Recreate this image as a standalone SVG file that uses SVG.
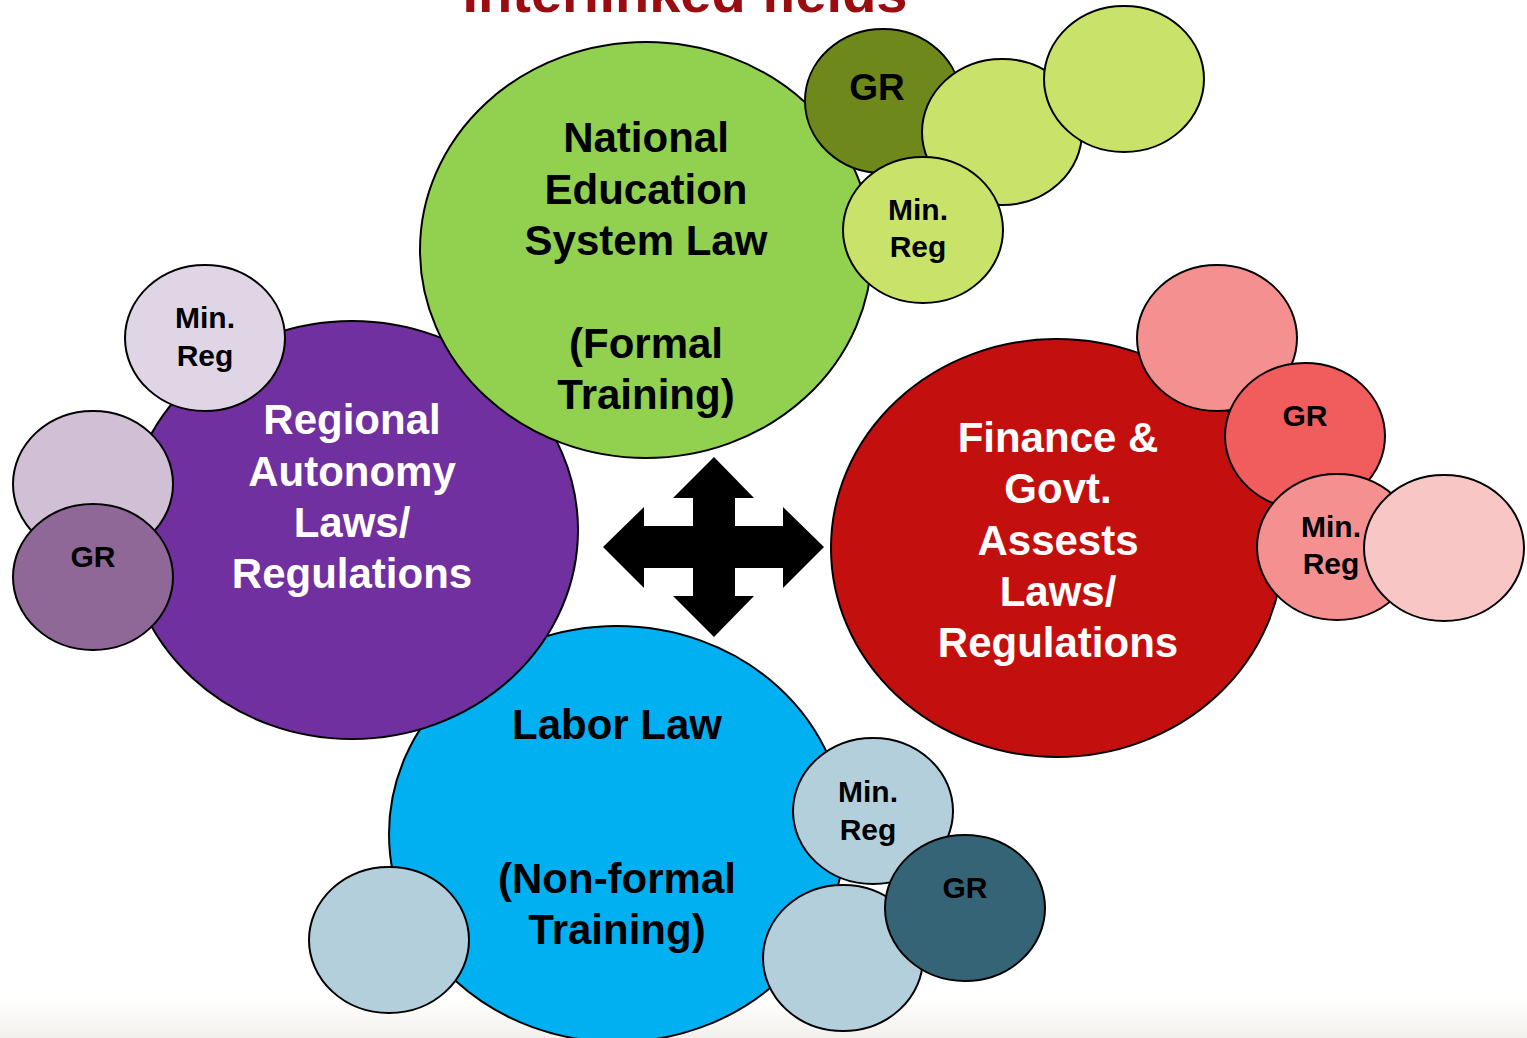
<svg xmlns="http://www.w3.org/2000/svg" width="1527" height="1038" viewBox="0 0 1527 1038">
  <defs>
    <linearGradient id="floor" x1="0" y1="0" x2="0" y2="1">
      <stop offset="0" stop-color="#ffffff"/>
      <stop offset="1" stop-color="#f2f0ec"/>
    </linearGradient>
  </defs>
  <style>
    ellipse { stroke: #000; stroke-width: 2; }
    text { font-family: "Liberation Sans", Arial, sans-serif; font-weight: bold; text-anchor: middle; }
    .big { font-size: 42px; }
    .small { font-size: 30px; fill: #000; }
    .dark { fill: #000; }
    .light { fill: #fff; }
    .title { font-size: 56px; fill: #9a0c10; }
  </style>

  <!-- page background -->
  <rect x="0" y="0" width="1527" height="1038" fill="#fff"/>
  <rect x="0" y="1000" width="1527" height="38" fill="url(#floor)"/>

  <text class="title" x="685" y="12">Interlinked fields</text>

  <!-- Labor law cluster -->
  <g id="labor-law">
    <ellipse cx="617" cy="834" rx="228" ry="208" fill="#00b0f0"/>
    <text class="big dark" x="617" y="739">Labor Law</text>
    <text class="big dark" x="617" y="893">(Non-formal</text>
    <text class="big dark" x="617" y="944">Training)</text>
  </g>
  <g id="labor-extra">
    <ellipse cx="389" cy="940" rx="80" ry="73" fill="#b3cfdc"/>
  </g>
  <g id="labor-minreg">
    <ellipse cx="873" cy="811" rx="80" ry="73" fill="#b3cfdc"/>
    <text class="small" x="868" y="802">Min.</text>
    <text class="small" x="868" y="840">Reg</text>
  </g>
  <g id="labor-extra2">
    <ellipse cx="843" cy="958" rx="80" ry="73" fill="#b3cfdc"/>
  </g>
  <g id="labor-gr">
    <ellipse cx="965" cy="908" rx="80" ry="73" fill="#366477"/>
    <text class="small" x="965" y="898">GR</text>
  </g>

  <!-- Regional autonomy cluster -->
  <g id="regional">
    <ellipse cx="352" cy="530" rx="226" ry="209" fill="#7030a0"/>
    <text class="big light" x="352" y="434">Regional</text>
    <text class="big light" x="352" y="486">Autonomy</text>
    <text class="big light" x="352" y="537">Laws/</text>
    <text class="big light" x="352" y="588">Regulations</text>
  </g>
  <g id="regional-minreg">
    <ellipse cx="205" cy="338" rx="80" ry="73" fill="#e0d5e4"/>
    <text class="small" x="205" y="328">Min.</text>
    <text class="small" x="205" y="366">Reg</text>
  </g>
  <g id="regional-extra">
    <ellipse cx="93" cy="484" rx="80" ry="73" fill="#d1bfd5"/>
  </g>
  <g id="regional-gr">
    <ellipse cx="93" cy="577" rx="80" ry="73" fill="#8f6898"/>
    <text class="small" x="93" y="567">GR</text>
  </g>

  <!-- National education cluster -->
  <g id="education">
    <ellipse cx="646" cy="250" rx="226" ry="208" fill="#92d050"/>
    <text class="big dark" x="646" y="152">National</text>
    <text class="big dark" x="646" y="204">Education</text>
    <text class="big dark" x="646" y="255">System Law</text>
    <text class="big dark" x="646" y="358">(Formal</text>
    <text class="big dark" x="646" y="409">Training)</text>
  </g>
  <g id="education-gr">
    <ellipse cx="883" cy="101" rx="78" ry="72" fill="#6f881b"/>
    <text x="877" y="100" style="font-size:37px">GR</text>
  </g>
  <g id="education-extra">
    <ellipse cx="1002" cy="132" rx="80" ry="73" fill="#c9e36a"/>
  </g>
  <g id="education-extra2">
    <ellipse cx="1124" cy="79" rx="80" ry="73" fill="#c9e36a"/>
  </g>
  <g id="education-minreg">
    <ellipse cx="923" cy="230" rx="80" ry="73" fill="#c9e36a"/>
    <text class="small" x="918" y="220">Min.</text>
    <text class="small" x="918" y="257">Reg</text>
  </g>

  <!-- Finance cluster -->
  <g id="finance">
    <ellipse cx="1057" cy="548" rx="226" ry="209" fill="#c40f0f"/>
    <text class="big light" x="1058" y="452">Finance &amp;</text>
    <text class="big light" x="1058" y="503">Govt.</text>
    <text class="big light" x="1058" y="555">Assests</text>
    <text class="big light" x="1058" y="606">Laws/</text>
    <text class="big light" x="1058" y="657">Regulations</text>
  </g>
  <g id="finance-extra">
    <ellipse cx="1217" cy="338" rx="80" ry="73" fill="#f59091"/>
  </g>
  <g id="finance-gr">
    <ellipse cx="1305" cy="436" rx="80" ry="73" fill="#f15c5c"/>
    <text class="small" x="1305" y="426">GR</text>
  </g>
  <g id="finance-minreg">
    <ellipse cx="1337" cy="547" rx="80" ry="73" fill="#f59091"/>
    <text class="small" x="1331" y="537">Min.</text>
    <text class="small" x="1331" y="574">Reg</text>
  </g>
  <g id="finance-extra2">
    <ellipse cx="1444" cy="548" rx="80" ry="73" fill="#f9c6c6"/>
  </g>

  <!-- four-way arrow linking the fields -->
  <g id="connectors">
    <polygon fill="#000" points="714,457 754,498 735,498 735,526 783,526 783,507 824,547 783,588 783,568 735,568 735,596 754,596 714,637 673,596 693,596 693,568 644,568 644,588 603,547 644,507 644,526 693,526 693,498 673,498"/>
  </g>
</svg>
